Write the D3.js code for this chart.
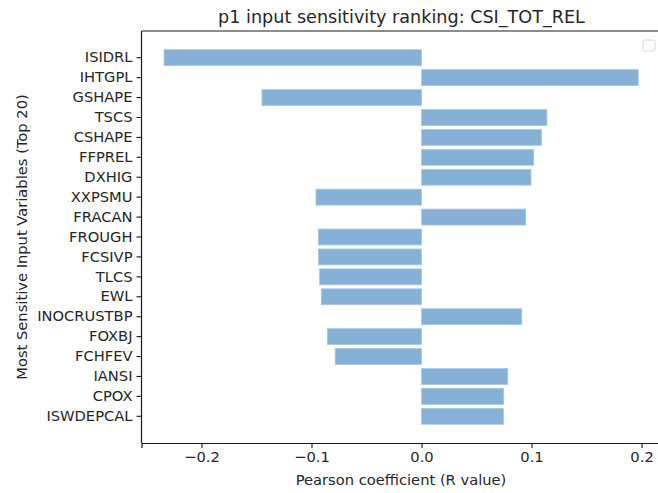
<!DOCTYPE html>
<html>
<head>
<meta charset="utf-8">
<script src="https://cdn.jsdelivr.net/npm/d3@7"></script>
<style>
  body { margin: 0; background: #fff; }
  svg text { font-family: "DejaVu Sans", sans-serif; fill: #262626; }
</style>
</head>
<body>
<svg id="chart" width="658" height="493"></svg>
<script>
// variable names, top to bottom
var variables = [
  'ISIDRL', 'IHTGPL', 'GSHAPE', 'TSCS', 'CSHAPE', 'FFPREL', 'DXHIG',
  'XXPSMU', 'FRACAN', 'FROUGH', 'FCSIVP', 'TLCS', 'EWL', 'INOCRUSTBP',
  'FOXBJ', 'FCHFEV', 'IANSI', 'CPOX', 'ISWDEPCAL'
];
// pearson R for each variable
var rValues = [
  -0.234, 0.197, -0.145, 0.114, 0.109, 0.102, 0.0995,
  -0.0959, 0.0947, -0.0938, -0.0937, -0.0926, -0.0911, 0.0911,
  -0.0856, -0.0784, 0.0784, 0.0747, 0.0745
];
var xTicks = [-0.2, -0.1, 0.0, 0.1, 0.2];

var svg = d3.select('#chart');
var axLeft = 141.5, axRight = 662, axTop = 31, axBottom = 443;
var fontSize = '14.7px';

// x scale goes past the right edge of the picture, like the original
var x = d3.scaleLinear()
  .domain([-0.2545, 0.2186])
  .range([axLeft, axRight]);

var y = d3.scaleBand()
  .domain(variables)
  .range([axTop, axBottom])
  .paddingInner(0.2)
  .paddingOuter(0.94);

// bars
svg.append('g')
  .selectAll('rect')
  .data(variables)
  .enter()
  .append('rect')
  .attr('x', function (d, i) { return x(Math.min(0, rValues[i])); })
  .attr('y', function (d) { return y(d); })
  .attr('width', function (d, i) { return Math.abs(x(rValues[i]) - x(0)); })
  .attr('height', y.bandwidth())
  .attr('fill', '#86b1d6')
  .attr('stroke', '#a9c9e4')
  .attr('stroke-width', 0.8);

// x axis
var xAxis = svg.append('g')
  .attr('transform', 'translate(0,' + axBottom + ')')
  .call(d3.axisBottom(x)
    .tickValues(xTicks)
    .tickSize(5)
    .tickPadding(4)
    .tickFormat(function (d) { return d3.format('.1f')(d).replace('-', '\u2212'); }));
xAxis.select('.domain').attr('stroke', '#1a1a1a').attr('stroke-width', 1.2);
xAxis.selectAll('.tick line').attr('stroke', '#1a1a1a').attr('stroke-width', 1.1);
xAxis.selectAll('.tick text')
  .attr('font-size', fontSize)
  .attr('font-family', '"DejaVu Sans", sans-serif')
  .attr('fill', '#262626');

// y axis
var yAxis = svg.append('g')
  .attr('transform', 'translate(' + axLeft + ',0)')
  .call(d3.axisLeft(y).tickSize(5).tickPadding(4));
yAxis.select('.domain').attr('stroke', '#1a1a1a').attr('stroke-width', 1.2)
  .attr('d', 'M0,' + axTop + 'V' + axBottom);
yAxis.selectAll('.tick line').attr('stroke', '#1a1a1a').attr('stroke-width', 1.1);
yAxis.selectAll('.tick text')
  .attr('font-size', fontSize)
  .attr('font-family', '"DejaVu Sans", sans-serif')
  .attr('fill', '#262626');

// top spine
svg.append('line')
  .attr('x1', axLeft).attr('x2', axRight)
  .attr('y1', axTop).attr('y2', axTop)
  .attr('stroke', '#1a1a1a')
  .attr('stroke-width', 1.2);

// empty legend box
svg.append('rect')
  .attr('x', 643).attr('y', 40)
  .attr('width', 12).attr('height', 11)
  .attr('rx', 2)
  .attr('fill', '#fff')
  .attr('stroke', '#d6d6d6')
  .attr('stroke-width', 1);

// title and axis labels
svg.append('text')
  .attr('x', 401.5).attr('y', 23)
  .attr('text-anchor', 'middle')
  .attr('font-size', '17.6px')
  .text('p1 input sensitivity ranking: CSI_TOT_REL');

svg.append('text')
  .attr('x', 401).attr('y', 485)
  .attr('text-anchor', 'middle')
  .attr('font-size', fontSize)
  .text('Pearson coefficient (R value)');

svg.append('text')
  .attr('transform', 'translate(27,' + ((axTop + axBottom) / 2) + ') rotate(-90)')
  .attr('text-anchor', 'middle')
  .attr('font-size', fontSize)
  .text('Most Sensitive Input Variables (Top 20)');
</script>
</body>
</html>
